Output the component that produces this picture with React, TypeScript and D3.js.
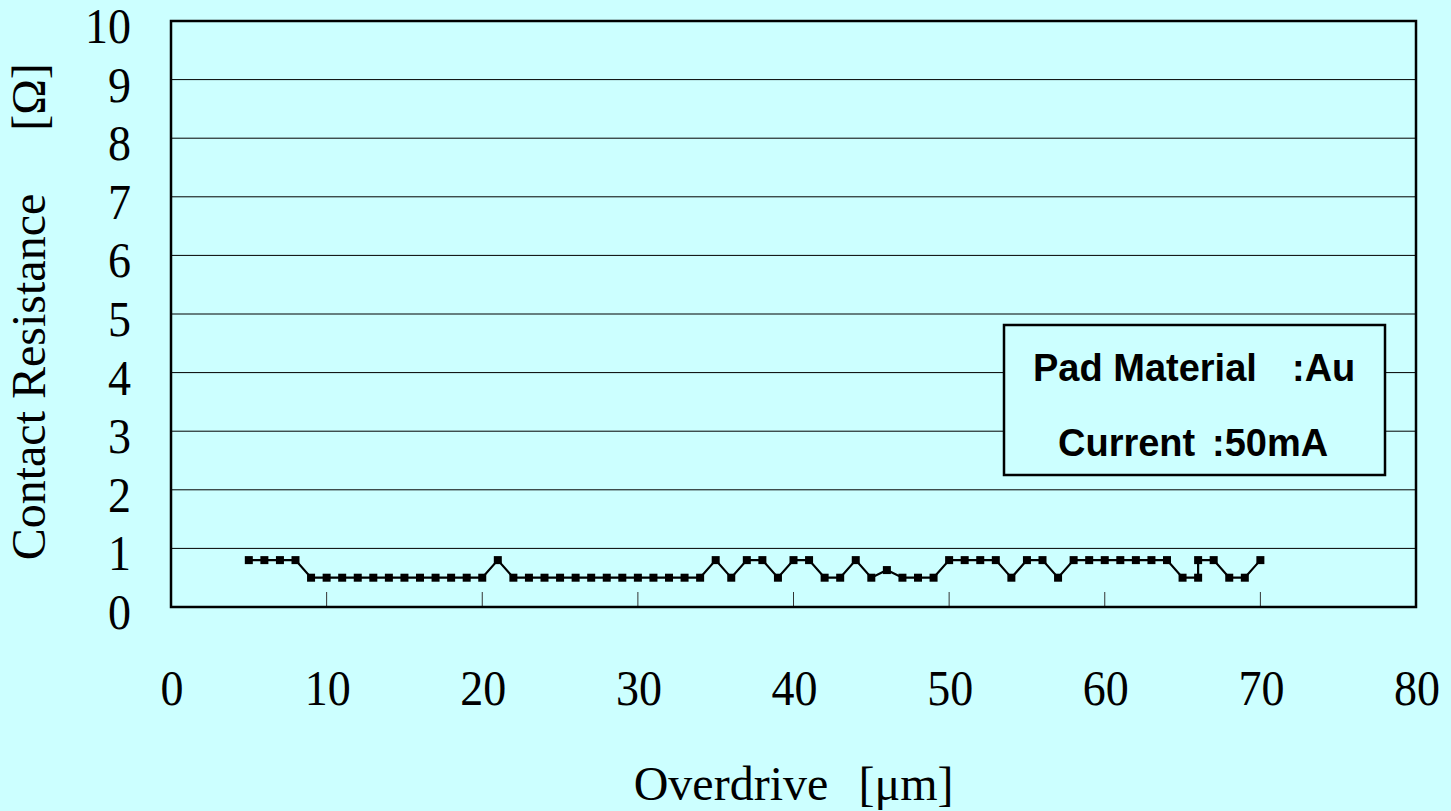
import * as d3 from "d3";

const overdrive = [
  5, 6, 7, 8, 9, 10, 11, 12, 13, 14, 15, 16, 17, 18, 19, 20, 21, 22, 23, 24,
  25, 26, 27, 28, 29, 30, 31, 32, 33, 34, 35, 36, 37, 38, 39, 40, 41, 42, 43,
  44, 45, 46, 47, 48, 49, 50, 51, 52, 53, 54, 55, 56, 57, 58, 59, 60, 61, 62,
  63, 64, 65, 66, 66, 67, 68, 69, 70,
];
const resistance = [
  0.8, 0.8, 0.8, 0.8, 0.5, 0.5, 0.5, 0.5, 0.5, 0.5, 0.5, 0.5, 0.5, 0.5, 0.5,
  0.5, 0.8, 0.5, 0.5, 0.5, 0.5, 0.5, 0.5, 0.5, 0.5, 0.5, 0.5, 0.5, 0.5, 0.5,
  0.8, 0.5, 0.8, 0.8, 0.5, 0.8, 0.8, 0.5, 0.5, 0.8, 0.5, 0.63, 0.5, 0.5, 0.5,
  0.8, 0.8, 0.8, 0.8, 0.5, 0.8, 0.8, 0.5, 0.8, 0.8, 0.8, 0.8, 0.8, 0.8, 0.8,
  0.5, 0.5, 0.8, 0.8, 0.5, 0.5, 0.8,
];
const xTicks = [0, 10, 20, 30, 40, 50, 60, 70, 80];
const yTicks = [0, 1, 2, 3, 4, 5, 6, 7, 8, 9, 10];
const legendLines = [
  ["Pad Material", ":Au"],
  ["Current", ":50mA"],
];

const W = 1451;
const H = 811;
const serif = "'Liberation Serif', 'Times New Roman', serif";
const sans = "'Liberation Sans', Arial, sans-serif";

export default function App() {
  const x = d3.scaleLinear().domain([0, 80]).range([171, 1416]);
  const y = d3.scaleLinear().domain([0, 10]).range([607, 21]);

  const points = overdrive.map((d, i) => [d, resistance[i]] as [number, number]);
  const line = d3
    .line<[number, number]>()
    .x((d) => x(d[0]))
    .y((d) => y(d[1]));

  // legend text positions (start x of each part)
  const legendPos = [
    { y: 381, a: 1033, b: 1292 },
    { y: 456, a: 1058, b: 1212 },
  ];

  return (
    <svg
      width={W}
      height={H}
      style={{ position: "absolute", left: 0, top: 0, background: "#CCFFFF" }}
    >
      <rect x={0} y={0} width={W} height={H} fill="#CCFFFF" />

      {/* gridlines */}
      {yTicks.slice(1, -1).map((t) => (
        <line
          key={"g" + t}
          x1={x(0)}
          x2={x(80)}
          y1={y(t)}
          y2={y(t)}
          stroke="#000"
          strokeWidth={1}
        />
      ))}

      {/* x ticks, pointing inward */}
      {xTicks.slice(1, -1).map((t) => (
        <line
          key={"xt" + t}
          x1={x(t)}
          x2={x(t)}
          y1={y(0)}
          y2={y(0) - 15}
          stroke="#333"
          strokeWidth={1}
        />
      ))}

      <rect
        x={x(0)}
        y={y(10)}
        width={x(80) - x(0)}
        height={y(0) - y(10)}
        fill="none"
        stroke="#000"
        strokeWidth={2.5}
      />

      {/* y tick labels */}
      {yTicks.map((t) => (
        <text
          key={"yl" + t}
          transform={`translate(131,${y(t) + 22}) scale(1,1.08)`}
          textAnchor="end"
          fontFamily={serif}
          fontSize={46}
          fill="#000"
        >
          {t}
        </text>
      ))}

      {/* x tick labels */}
      {xTicks.map((t) => (
        <text
          key={"xl" + t}
          transform={`translate(${x(t) + 1},705) scale(1,1.08)`}
          textAnchor="middle"
          fontFamily={serif}
          fontSize={46}
          fill="#000"
        >
          {t}
        </text>
      ))}

      {/* axis titles */}
      <text x={731} y={800} textAnchor="middle" fontFamily={serif} fontSize={48} fill="#000">
        Overdrive
      </text>
      <text x={906} y={800} textAnchor="middle" fontFamily={serif} fontSize={48} fill="#000">
        [μm]
      </text>
      <text
        transform="translate(45,377) rotate(-90)"
        textAnchor="middle"
        fontFamily={serif}
        fontSize={48}
        fill="#000"
      >
        Contact Resistance
      </text>
      <text
        transform="translate(45,97) rotate(-90)"
        textAnchor="middle"
        fontFamily={serif}
        fontSize={48}
        fill="#000"
      >
        [Ω]
      </text>

      {/* series */}
      <path d={line(points) ?? ""} fill="none" stroke="#000" strokeWidth={2.2} />
      {points.map((d, i) => (
        <rect
          key={"p" + i}
          x={x(d[0]) - 4}
          y={y(d[1]) - 4}
          width={8}
          height={8}
          fill="#000"
        />
      ))}

      {/* legend box */}
      <rect x={1004} y={325} width={381} height={150} fill="#CCFFFF" stroke="#000" strokeWidth={2.5} />
      {legendLines.map((l, i) => (
        <g key={"lg" + i} fontFamily={sans} fontSize={38} fontWeight="bold" fill="#000">
          <text x={legendPos[i].a} y={legendPos[i].y}>
            {l[0]}
          </text>
          <text x={legendPos[i].b} y={legendPos[i].y}>
            {l[1]}
          </text>
        </g>
      ))}
    </svg>
  );
}
